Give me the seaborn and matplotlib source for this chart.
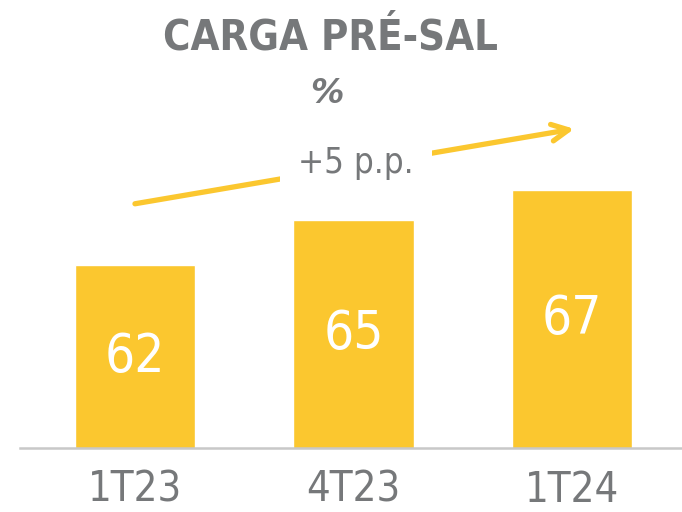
import matplotlib
matplotlib.use("Agg")
import matplotlib.pyplot as plt
import pandas as pd
import seaborn as sns

# data
periods = ["1T23", "4T23", "1T24"]
carga_pre_sal = [62, 65, 67]
delta_label = "+5 p.p."

YELLOW = "#FBC72F"
GRAY = "#76787A"

sns.set_theme(style="white")
plt.rcParams["font.family"] = ["DejaVu Sans"]

df = pd.DataFrame({"periodo": periods, "carga": carga_pre_sal})

fig = plt.figure(figsize=(6.82, 5.12), dpi=100)
ax = fig.add_axes([20 / 682, 0.125, 662 / 682, 0.875])

sns.barplot(data=df, x="periodo", y="carga", color=YELLOW, saturation=1,
            width=0.55, ax=ax)

y0, y1 = 49.8, 79.7
ax.set_ylim(y0, y1)
ax.set_xlim(-0.526, 2.503)

# value labels centred inside bars
for i, v in enumerate(carga_pre_sal):
    ax.text(i, (y0 + v) / 2, str(v), ha="center", va="center", color="white",
            fontsize=38, fontstretch="condensed")

# trend arrow with label
ax.annotate("", xy=(2.01, 71.1), xytext=(0, 66.1),
            arrowprops=dict(arrowstyle="->,head_length=1.0,head_width=0.5",
                            color=YELLOW, lw=3.8, shrinkA=0, shrinkB=0))
ax.text(1.01, 68.8, delta_label, ha="center", va="center", color=GRAY,
        fontsize=25, fontstretch="condensed",
        bbox=dict(facecolor="white", edgecolor="none", pad=13))

sns.despine(ax=ax, left=True)
ax.spines["bottom"].set_color("#C8C8C8")
ax.spines["bottom"].set_linewidth(1.8)
ax.set_yticks([])
ax.set_xlabel("")
ax.set_ylabel("")
ax.tick_params(axis="x", length=0, pad=15, labelsize=30, labelcolor=GRAY)
for lbl in ax.get_xticklabels():
    lbl.set_fontstretch("condensed")

fig.text(0.484, 0.926, "CARGA PRÉ-SAL", ha="center", va="center",
         color=GRAY, fontsize=30, fontweight="bold", fontstretch="condensed")
fig.text(0.48, 0.818, "%", ha="center", va="center", color=GRAY,
         fontsize=24, fontweight="bold", fontstyle="italic")

fig.savefig("out.png", dpi=100)
